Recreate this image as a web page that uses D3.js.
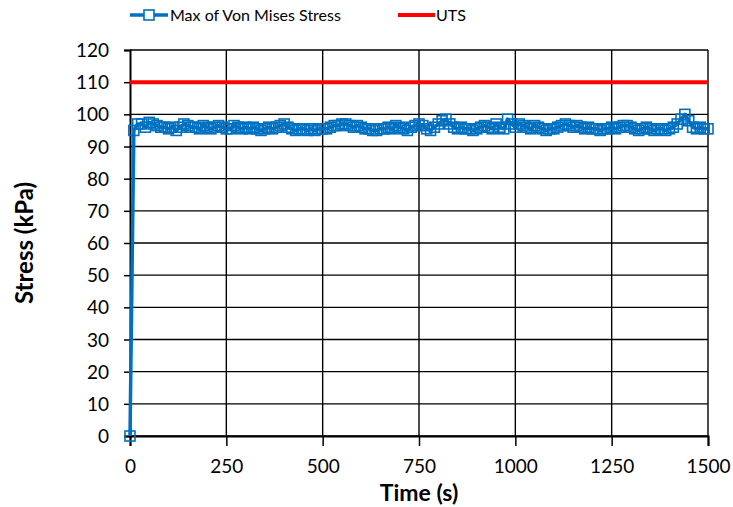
<!DOCTYPE html>
<html>
<head>
<meta charset="utf-8">
<script src="https://cdn.jsdelivr.net/npm/d3@7"></script>
<style>
  body { margin: 0; background: #fff; }
  svg text { font-family: Lato, "Liberation Sans", sans-serif; fill: #000; }
</style>
</head>
<body>
<script>
// time steps (s) and max von mises stress (kPa)
var times = d3.range(0, 1501, 10);
var stress = [0,
  95, 97, 97, 96, 97.5, 97, 96.5, 96, 96, 95.5,
  96, 95, 96, 97, 96.5, 96, 96, 95.5, 96.5, 96,
  95.5, 96, 96.5, 96, 95.5, 95.5, 96.5, 96, 95.5, 96,
  95.5, 96, 95.5, 95, 95.5, 96, 95.5, 96, 96.5, 97,
  96, 95.5, 95, 95.5, 95.5, 95, 95.5, 95, 95.5, 95.5,
  95.5, 96, 96.5, 96.5, 97, 97, 96.5, 96, 96.5, 96,
  95.5, 95.5, 95, 95, 95.5, 95.5, 96, 95.5, 96.5, 96,
  95.5, 95, 96, 96.5, 97, 96.5, 95.5, 95, 96, 97,
  98, 98.5, 97, 96, 95.5, 96, 95.5, 95.5, 95, 95.5,
  96, 96.5, 96, 95.5, 97, 96, 95.5, 98.5, 97, 96,
  97, 96.5, 96, 95.5, 96.5, 96, 95.5, 95, 95.5, 95.5,
  96, 96.5, 97, 96.5, 96, 96.5, 96, 95.5, 96, 95.5,
  95.5, 95, 95.5, 95.5, 96, 95.5, 96, 96.5, 96.5, 96,
  95.5, 95, 95.5, 96, 95.5, 95, 95.5, 95.5, 95, 95.5,
  96, 97, 98.5, 100, 98, 96, 95.5, 96, 95.5, 95.5
];
var utsTimes = [0, 1500];
var utsValues = [110, 110];

var xTicks = [0, 250, 500, 750, 1000, 1250, 1500];
var yTicks = d3.range(0, 121, 10);

var width = 733, height = 507;
var margin = {top: 50, right: 25, bottom: 71, left: 130};

var svg = d3.select("body").append("svg")
    .attr("width", width)
    .attr("height", height);

var x = d3.scaleLinear().domain([0, 1500]).range([margin.left, width - margin.right]);
var y = d3.scaleLinear().domain([0, 120]).range([height - margin.bottom, margin.top]);

// gridlines
svg.append("g").selectAll("line.h")
    .data(yTicks).enter().append("line")
    .attr("x1", x(0)).attr("x2", x(1500))
    .attr("y1", function(d) { return y(d); })
    .attr("y2", function(d) { return y(d); })
    .attr("stroke", "#000").attr("stroke-width", 1.4);

svg.append("g").selectAll("line.v")
    .data(xTicks.slice(1)).enter().append("line")
    .attr("x1", function(d) { return x(d); })
    .attr("x2", function(d) { return x(d); })
    .attr("y1", y(0)).attr("y2", y(120))
    .attr("stroke", "#000").attr("stroke-width", 1.4);

// axes
var xAxis = svg.append("g")
    .attr("transform", "translate(0," + y(0) + ")")
    .call(d3.axisBottom(x).tickValues(xTicks).tickFormat(d3.format("d")).tickSize(10).tickPadding(14));
var yAxis = svg.append("g")
    .attr("transform", "translate(" + x(0) + ",0)")
    .call(d3.axisLeft(y).tickValues(yTicks).tickSize(6).tickPadding(15));

[xAxis, yAxis].forEach(function(a) {
    a.select(".domain").attr("stroke", "#000").attr("stroke-width", 2);
    a.selectAll(".tick line").attr("stroke", "#000").attr("stroke-width", 1.5);
    a.selectAll(".tick text")
        .style("font-family", "Lato, 'Liberation Sans', sans-serif")
        .style("font-size", "19px");
});
yAxis.selectAll(".tick text").attr("dy", "0.35em");

// UTS line
var uts = utsTimes.map(function(t, i) { return {t: t, v: utsValues[i]}; });
svg.append("path")
    .datum(uts)
    .attr("fill", "none")
    .attr("stroke", "#FF0000")
    .attr("stroke-width", 4)
    .attr("d", d3.line().x(function(d) { return x(d.t); }).y(function(d) { return y(d.v); }));

// stress series
var pts = times.map(function(t, i) { return {t: t, v: stress[i]}; });
svg.append("path")
    .datum(pts)
    .attr("fill", "none")
    .attr("stroke", "#0070C0")
    .attr("stroke-width", 3.5)
    .attr("stroke-linejoin", "round")
    .attr("d", d3.line().x(function(d) { return x(d.t); }).y(function(d) { return y(d.v); }));

svg.append("g").selectAll("rect")
    .data(pts).enter().append("rect")
    .attr("x", function(d) { return x(d.t) - 5; })
    .attr("y", function(d) { return y(d.v) - 5; })
    .attr("width", 10).attr("height", 10)
    .attr("fill", "none")
    .attr("stroke", "#0070C0")
    .attr("stroke-width", 1.6);

// axis titles
svg.append("text")
    .attr("x", x(750)).attr("y", 501)
    .attr("text-anchor", "middle")
    .style("font-size", "23px").style("font-weight", "bold")
    .text("Time (s)");

svg.append("text")
    .attr("transform", "translate(33," + y(60) + ") rotate(-90)")
    .attr("text-anchor", "middle")
    .style("font-size", "24px").style("font-weight", "bold")
    .text("Stress (kPa)");

// legend
var leg = svg.append("g");
leg.append("line")
    .attr("x1", 130).attr("x2", 168).attr("y1", 15).attr("y2", 15)
    .attr("stroke", "#0070C0").attr("stroke-width", 3.5);
leg.append("rect")
    .attr("x", 144).attr("y", 10).attr("width", 10).attr("height", 10)
    .attr("fill", "#fff").attr("stroke", "#0070C0").attr("stroke-width", 1.6);
leg.append("text")
    .attr("x", 170).attr("y", 15).attr("dy", "0.35em")
    .style("font-size", "16px")
    .text("Max of Von Mises Stress");
leg.append("line")
    .attr("x1", 398).attr("x2", 435).attr("y1", 15).attr("y2", 15)
    .attr("stroke", "#FF0000").attr("stroke-width", 4);
leg.append("text")
    .attr("x", 436).attr("y", 15).attr("dy", "0.35em")
    .style("font-size", "16px")
    .text("UTS");
</script>
</body>
</html>
